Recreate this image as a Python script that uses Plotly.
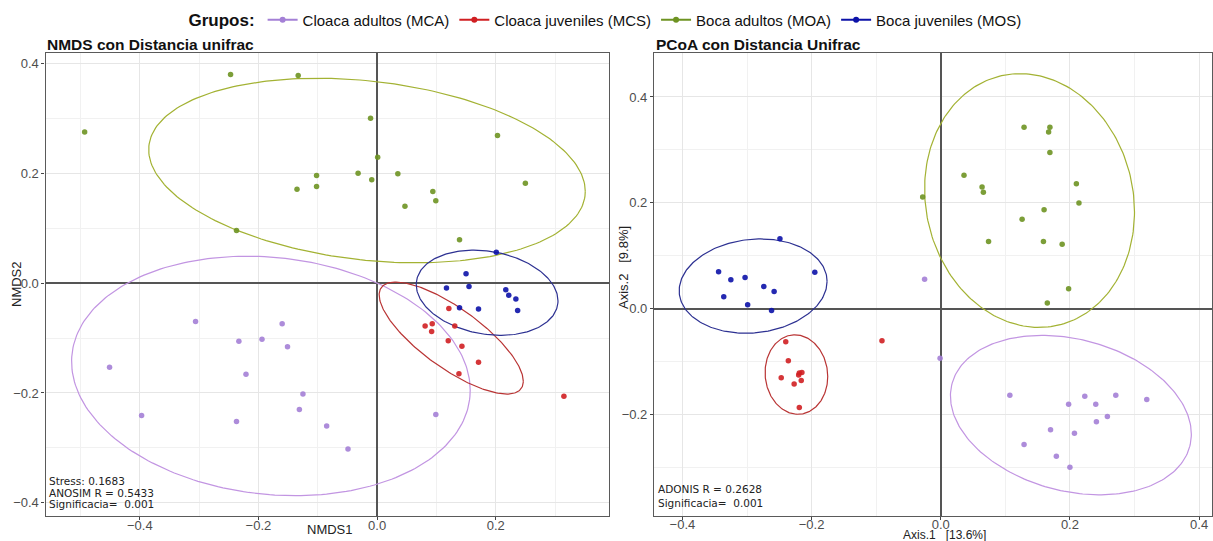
import numpy as np
import plotly.graph_objects as go

W, H = 1213, 541

groups = ["Cloaca adultos (MCA)", "Cloaca juveniles (MCS)", "Boca adultos (MOA)", "Boca juveniles (MOS)"]
point_colors = ["#a480d6", "#d01f22", "#6e9322", "#0c12a8"]
ellipse_colors = ["#c295e2", "#b93434", "#a3b233", "#2d3192"]

# ---------------- NMDS (left panel) ----------------
nmds_mca_x = [-0.451, -0.397, -0.306, -0.233, -0.237, -0.221, -0.194, -0.160, -0.151, -0.125, -0.131, -0.085, -0.049, 0.099]
nmds_mca_y = [-0.153, -0.241, -0.070, -0.106, -0.252, -0.166, -0.102, -0.074, -0.116, -0.202, -0.230, -0.260, -0.302, -0.239]
nmds_mcs_x = [0.121, 0.081, 0.093, 0.092, 0.120, 0.143, 0.171, 0.138, 0.315, 0.131]
nmds_mcs_y = [-0.046, -0.078, -0.074, -0.088, -0.105, -0.115, -0.144, -0.165, -0.206, -0.078]
nmds_moa_x = [-0.493, -0.247, -0.133, -0.011, 0.203, 0.001, -0.102, -0.032, 0.035, -0.009, 0.250, -0.135, -0.102, 0.094, 0.099, 0.047, -0.237, 0.139]
nmds_moa_y = [0.275, 0.380, 0.378, 0.300, 0.269, 0.229, 0.196, 0.200, 0.199, 0.188, 0.182, 0.171, 0.176, 0.167, 0.150, 0.140, 0.096, 0.079]
nmds_mos_x = [0.201, 0.150, 0.117, 0.155, 0.217, 0.222, 0.234, 0.237, 0.171, 0.139]
nmds_mos_y = [0.056, 0.017, -0.009, -0.006, -0.012, -0.022, -0.029, -0.050, -0.047, -0.045]

# ellipse parameters (centre, half-width, half-height, x/y correlation) for MCA, MCS, MOA, MOS
nmds_ell_cx = [-0.179, 0.125, -0.017, 0.1855]
nmds_ell_cy = [-0.169, -0.100, 0.205, -0.0175]
nmds_ell_hx = [0.336, 0.1215, 0.368, 0.1195]
nmds_ell_hy = [0.218, 0.102, 0.168, 0.0775]
nmds_ell_r = [-0.12, -0.77, -0.226, -0.19]

# ---------------- PCoA (right panel) ----------------
pcoa_mca_x = [-0.025, -0.001, 0.107, 0.198, 0.223, 0.240, 0.271, 0.319, 0.258, 0.241, 0.170, 0.207, 0.129, 0.179, 0.200]
pcoa_mca_y = [0.056, -0.093, -0.163, -0.180, -0.165, -0.180, -0.163, -0.171, -0.203, -0.213, -0.228, -0.235, -0.256, -0.278, -0.299]
pcoa_mcs_x = [-0.240, -0.236, -0.219, -0.215, -0.220, -0.247, -0.227, -0.216, -0.219, -0.091]
pcoa_mcs_y = [-0.062, -0.098, -0.121, -0.120, -0.125, -0.130, -0.142, -0.135, -0.186, -0.060]
pcoa_moa_x = [-0.028, 0.036, 0.064, 0.066, 0.074, 0.129, 0.169, 0.167, 0.169, 0.210, 0.214, 0.160, 0.126, 0.159, 0.188, 0.198, 0.165]
pcoa_moa_y = [0.211, 0.252, 0.230, 0.220, 0.127, 0.343, 0.343, 0.334, 0.295, 0.236, 0.200, 0.187, 0.169, 0.127, 0.122, 0.038, 0.011]
pcoa_mos_x = [-0.249, -0.344, -0.325, -0.303, -0.274, -0.258, -0.195, -0.336, -0.299, -0.262]
pcoa_mos_y = [0.1325, 0.070, 0.055, 0.059, 0.042, 0.033, 0.069, 0.023, 0.008, -0.003]

pcoa_ell_cx = [0.2015, -0.2235, 0.1375, -0.2905]
pcoa_ell_cy = [-0.2005, -0.124, 0.2045, 0.043]
pcoa_ell_hx = [0.1865, 0.0485, 0.1625, 0.1145]
pcoa_ell_hy = [0.1505, 0.075, 0.2395, 0.089]
pcoa_ell_r = [-0.24, -0.05, -0.09, 0.10]

nmds_x = [nmds_mca_x, nmds_mcs_x, nmds_moa_x, nmds_mos_x]
nmds_y = [nmds_mca_y, nmds_mcs_y, nmds_moa_y, nmds_mos_y]
pcoa_x = [pcoa_mca_x, pcoa_mcs_x, pcoa_moa_x, pcoa_mos_x]
pcoa_y = [pcoa_mca_y, pcoa_mcs_y, pcoa_moa_y, pcoa_mos_y]


def ellipse(cx, cy, hx, hy, r, n=240):
    t = np.linspace(0, 2 * np.pi, n)
    x = cx + hx * np.cos(t)
    y = cy + hy * (r * np.cos(t) + np.sqrt(1 - r * r) * np.sin(t))
    return x, y


fig = go.Figure()

panels = [
    ("x", "y", nmds_x, nmds_y, nmds_ell_cx, nmds_ell_cy, nmds_ell_hx, nmds_ell_hy, nmds_ell_r),
    ("x2", "y2", pcoa_x, pcoa_y, pcoa_ell_cx, pcoa_ell_cy, pcoa_ell_hx, pcoa_ell_hy, pcoa_ell_r),
]
for xa, ya, px, py, cxs, cys, hxs, hys, rs in panels:
    for i in range(4):
        ex, ey = ellipse(cxs[i], cys[i], hxs[i], hys[i], rs[i])
        fig.add_trace(go.Scatter(x=ex, y=ey, mode="lines", xaxis=xa, yaxis=ya,
                                 line=dict(color=ellipse_colors[i], width=1.2),
                                 showlegend=False, hoverinfo="skip"))
    for i in range(4):
        fig.add_trace(go.Scatter(x=px[i], y=py[i], mode="markers", xaxis=xa, yaxis=ya,
                                 marker=dict(color=point_colors[i], size=5.5, opacity=0.9),
                                 name=groups[i], showlegend=False))

# legend entries
for i in range(4):
    fig.add_trace(go.Scatter(x=[None], y=[None], mode="lines+markers", name=groups[i],
                             line=dict(color=point_colors[i], width=2),
                             marker=dict(color=point_colors[i], size=6)))

tick_font = dict(family="Liberation Sans, Arial, sans-serif", size=13, color="#4d4d4d")
common = dict(showgrid=True, gridcolor="#e6e6e6", gridwidth=1,
              minor=dict(dtick=0.1, showgrid=True, gridcolor="#f1f1f1", gridwidth=0.7),
              zeroline=True, zerolinecolor="#555555", zerolinewidth=1.5,
              showline=True, mirror=True, linecolor="#5a5a5a", linewidth=1.2,
              ticks="outside", ticklen=3, tickcolor="#444444",
              tickfont=tick_font, dtick=0.2, tickformat=".1f")

fig.update_layout(
    width=W, height=H,
    margin=dict(l=0, r=0, t=0, b=0),
    paper_bgcolor="white", plot_bgcolor="white",
    font=dict(family="Liberation Sans, Arial, sans-serif"),
    xaxis=dict(domain=[45.5 / W, 609 / W], range=[-0.559, 0.391], anchor="y", ticklabelstandoff=-6, **common),
    yaxis=dict(domain=[25 / H, 488 / H], range=[-0.424, 0.419], anchor="x", **common),
    xaxis2=dict(domain=[654 / W, 1212 / W], range=[-0.444, 0.42], anchor="y2", ticklabelstandoff=-7, **common),
    yaxis2=dict(domain=[25 / H, 488 / H], range=[-0.391, 0.483], anchor="x2", **common),
    legend=dict(orientation="h", x=0.5, xanchor="center", y=1 - 20 / H, yanchor="middle",
                title=dict(text="<b>Grupos:</b>", side="left",
                           font=dict(size=17, color="#111111")),
                font=dict(size=15, color="#111111"), itemwidth=30,
                bgcolor="rgba(0,0,0,0)", tracegroupgap=0),
)

ann_font = dict(family="DejaVu Sans, Noto Sans, sans-serif", size=10.5, color="#222222")
annotations = [
    dict(text="<b>NMDS con Distancia unifrac</b>", x=45 / W, y=1 - 45 / H, xanchor="left", yanchor="middle",
         font=dict(size=15.5, color="#111111")),
    dict(text="<b>PCoA con Distancia Unifrac</b>", x=654 / W, y=1 - 45 / H, xanchor="left", yanchor="middle",
         font=dict(size=15.5, color="#111111")),
    dict(text="NMDS1", x=330 / W, y=1 - 529 / H, xanchor="center", yanchor="middle",
         font=dict(size=13, color="#222222")),
    dict(text="NMDS2", x=16 / W, y=1 - 284 / H, xanchor="center", yanchor="middle", textangle=-90,
         font=dict(size=13, color="#222222")),
    dict(text="Axis.1   [13.6%]", x=944 / W, y=1 - 535 / H, xanchor="center", yanchor="middle",
         font=dict(size=12, color="#222222")),
    dict(text="Axis.2   [9.8%]", x=623 / W, y=1 - 268 / H, xanchor="center", yanchor="middle", textangle=-90,
         font=dict(size=13, color="#222222")),
    dict(text="Stress: 0.1683", x=47 / W, y=1 - 481 / H, xanchor="left", yanchor="middle", font=ann_font),
    dict(text="ANOSIM R = 0.5433", x=47 / W, y=1 - 492.5 / H, xanchor="left", yanchor="middle", font=ann_font),
    dict(text="Significacia=  0.001", x=47 / W, y=1 - 504 / H, xanchor="left", yanchor="middle", font=ann_font),
    dict(text="ADONIS R = 0.2628", x=656 / W, y=1 - 489 / H, xanchor="left", yanchor="middle", font=ann_font),
    dict(text="Significacia=  0.001", x=656 / W, y=1 - 503 / H, xanchor="left", yanchor="middle", font=ann_font),
]
for a in annotations:
    a.update(xref="paper", yref="paper", showarrow=False)
fig.update_layout(annotations=annotations)

fig.write_html("out.html")
